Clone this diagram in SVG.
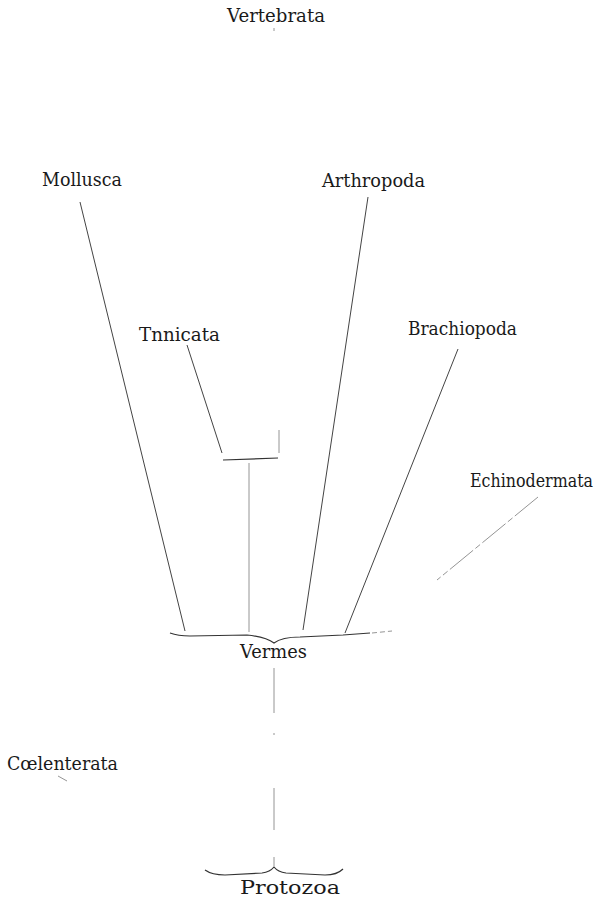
<svg xmlns="http://www.w3.org/2000/svg" width="611" height="903" viewBox="0 0 611 903">
<style>
text{font-family:'DejaVu Serif','Liberation Serif',serif;font-size:18px;fill:#1a1a1a}
.ln{stroke:#444;stroke-width:1;fill:none}
.lt{stroke:#888;stroke-width:0.9;fill:none}
.br{stroke:#333;stroke-width:1.2;fill:none}
</style>
<rect width="611" height="903" fill="#fff"/>
<g id="connectors">
  <line class="lt" x1="274" y1="28" x2="274" y2="31"/>
  <line class="ln" x1="80" y1="202" x2="185" y2="631"/>
  <line class="ln" x1="368" y1="197" x2="303" y2="630"/>
  <line class="ln" x1="187" y1="345" x2="222" y2="453"/>
  <line class="ln" x1="458" y1="349" x2="345" y2="633"/>
  <line class="lt" x1="538" y1="497" x2="437" y2="580" stroke-dasharray="30 3 6 3"/>
  <line class="lt" x1="249" y1="463" x2="249" y2="632"/>
  <line class="lt" x1="279" y1="430" x2="279" y2="453"/>
  <path class="br" d="M223,460 L278,458"/>
  <path class="br" d="M170,633 Q178,636 190,636 L247,635 Q266,637 274,643 Q282,637 300,637 L343,635 L370,633"/>
  <line class="lt" x1="372" y1="633" x2="392" y2="631" stroke-dasharray="5 3"/>
  <line class="lt" x1="274" y1="668" x2="274" y2="830" stroke-dasharray="45 20 2 53 62"/>
  <line class="lt" x1="274" y1="857" x2="274" y2="866"/>
  <line class="lt" x1="58" y1="776" x2="67" y2="781"/>
  <path class="br" d="M205,870 Q212,875 225,875 L262,873 Q270,872 274,867 Q278,872 286,873 L325,875 Q337,875 343,869"/>
</g>
<g id="vertebrata"><text x="227" y="22" textLength="98" lengthAdjust="spacingAndGlyphs">Vertebrata</text></g>
<g id="mollusca"><text x="42" y="186" textLength="80" lengthAdjust="spacingAndGlyphs">Mollusca</text></g>
<g id="arthropoda"><text x="322" y="187" textLength="103" lengthAdjust="spacingAndGlyphs">Arthropoda</text></g>
<g id="tunicata"><text x="139" y="341" textLength="81" lengthAdjust="spacingAndGlyphs">Tnnicata</text></g>
<g id="brachiopoda"><text x="408" y="335" textLength="109" lengthAdjust="spacingAndGlyphs">Brachiopoda</text></g>
<g id="echinodermata"><text x="470" y="487" textLength="123" lengthAdjust="spacingAndGlyphs">Echinodermata</text></g>
<g id="vermes"><text x="240" y="658" textLength="67" lengthAdjust="spacingAndGlyphs">Vermes</text></g>
<g id="coelenterata"><text x="7" y="770" textLength="111" lengthAdjust="spacingAndGlyphs">Cœlenterata</text></g>
<g id="protozoa"><text x="240" y="894" textLength="100" lengthAdjust="spacingAndGlyphs">Protozoa</text></g>
</svg>
